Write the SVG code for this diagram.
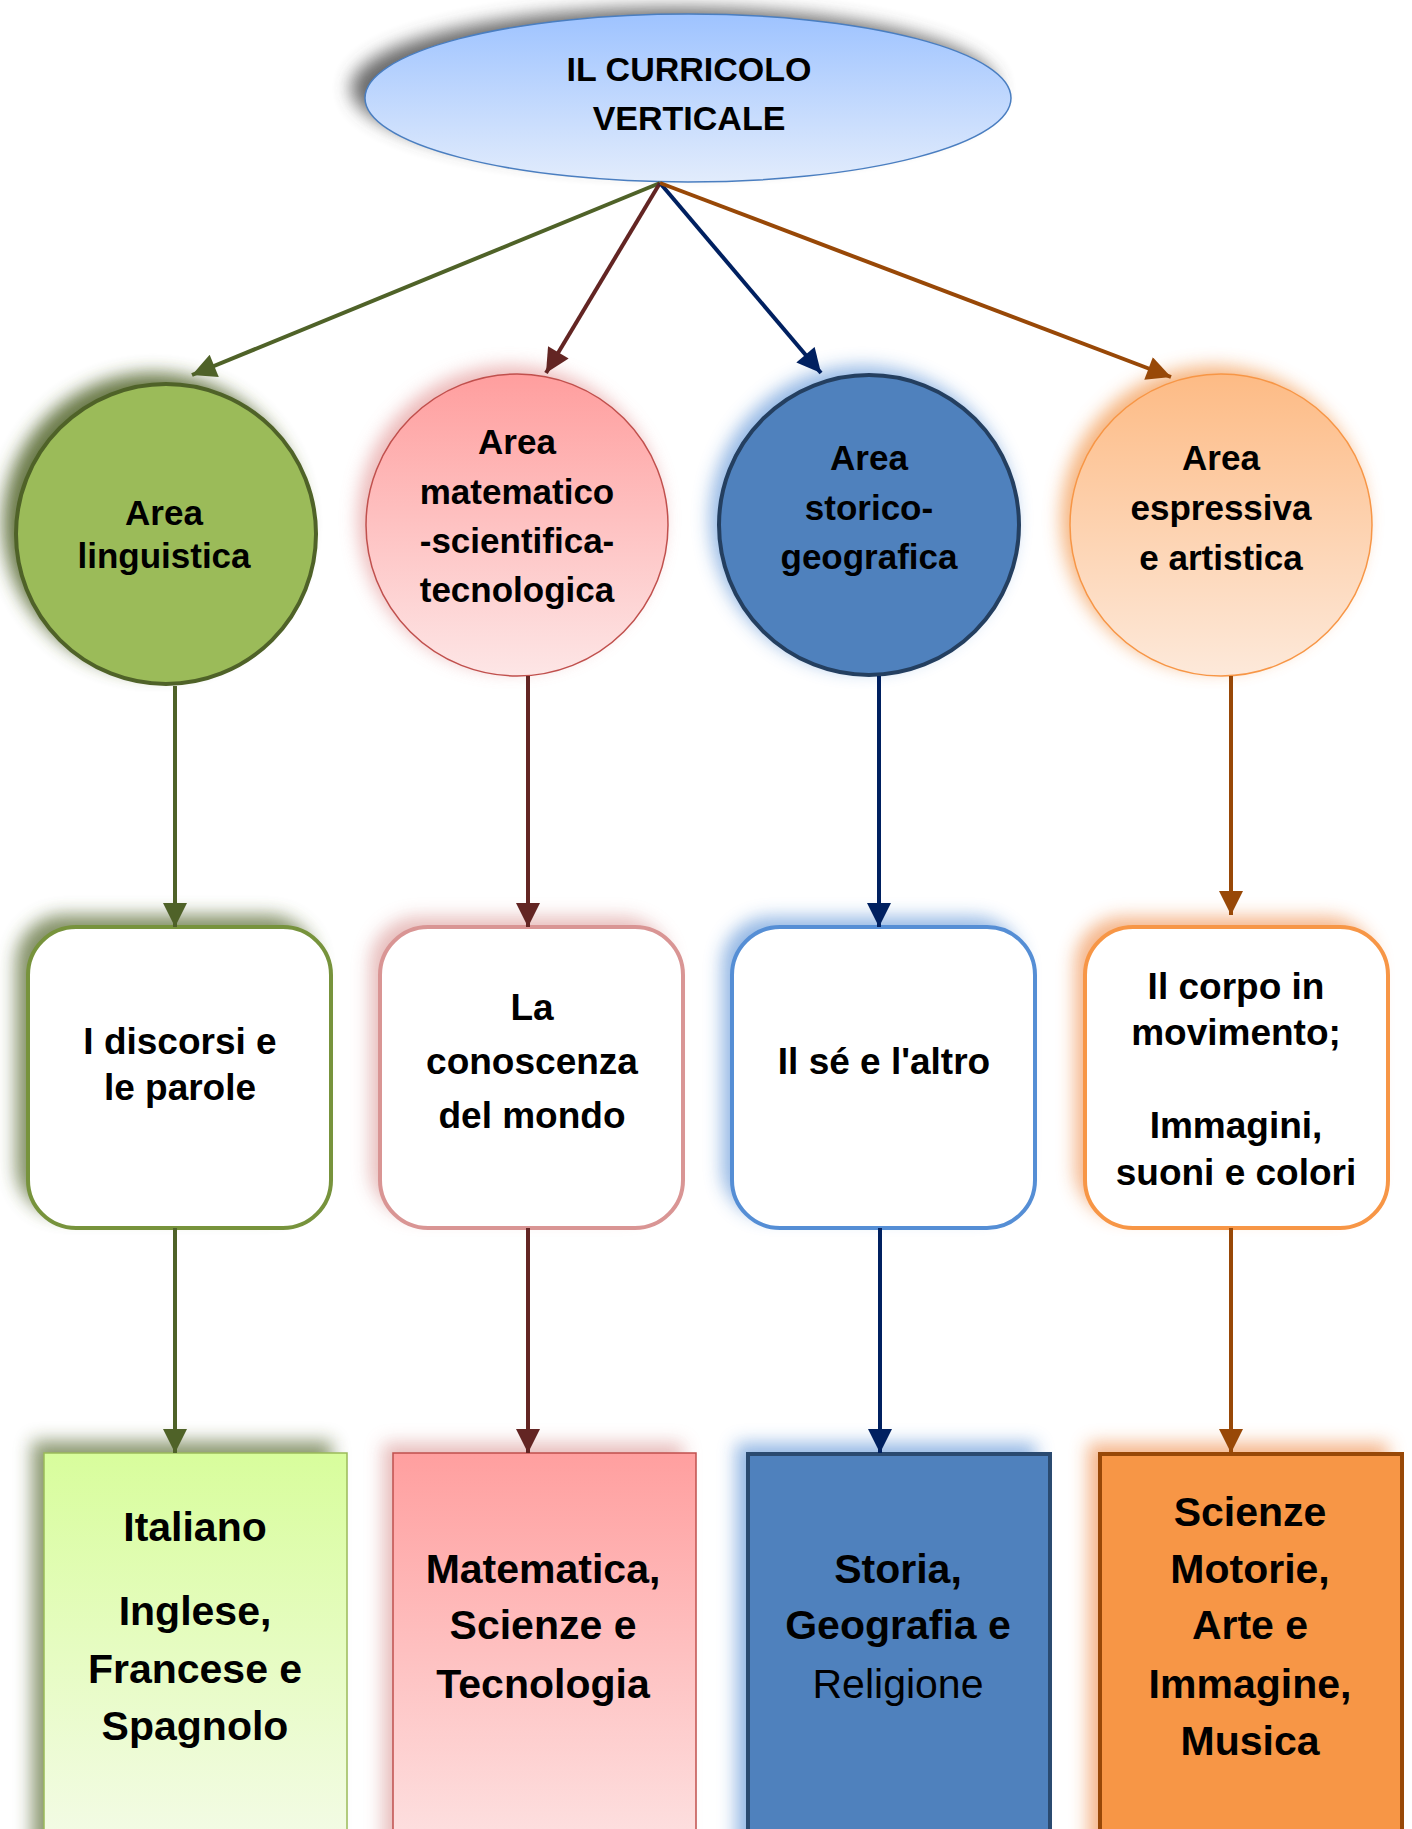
<svg xmlns="http://www.w3.org/2000/svg" width="1412" height="1829" viewBox="0 0 1412 1829">
<defs>
  <style>
    text { font-family: "Liberation Sans", Arial, sans-serif; font-weight: bold; fill: #000; text-anchor: middle; }
    .t34 { font-size: 34px; }
    .t35 { font-size: 35px; }
    .t37 { font-size: 37px; }
    .t41 { font-size: 41px; }
    .ln { fill: none; stroke-width: 4; }
  </style>
  <filter id="blur" x="-30%" y="-30%" width="160%" height="160%"><feGaussianBlur stdDeviation="9"/></filter>
  <linearGradient id="gEll" x1="0" y1="0" x2="0" y2="1"><stop offset="0" stop-color="#9ec3ff"/><stop offset="1" stop-color="#e2ecfc"/></linearGradient>
  <linearGradient id="gPink" x1="0" y1="0" x2="0" y2="1"><stop offset="0" stop-color="#ff9e9e"/><stop offset="1" stop-color="#fde6e6"/></linearGradient>
  <linearGradient id="gOrg" x1="0" y1="0" x2="0" y2="1"><stop offset="0" stop-color="#fdbb85"/><stop offset="1" stop-color="#fde9da"/></linearGradient>
  <linearGradient id="gGreenB" x1="0" y1="0" x2="0" y2="1"><stop offset="0" stop-color="#d8fd9c"/><stop offset="1" stop-color="#f4fbe8"/></linearGradient>
  <linearGradient id="gPinkB" x1="0" y1="0" x2="0" y2="1"><stop offset="0" stop-color="#ff9f9f"/><stop offset="1" stop-color="#fde2e2"/></linearGradient>
  <marker id="aG" viewBox="0 0 10 10" refX="10" refY="5" markerWidth="26" markerHeight="24" markerUnits="userSpaceOnUse" orient="auto"><path d="M0,0 L10,5 L0,10 z" fill="#4f6228"/></marker>
  <marker id="aR" viewBox="0 0 10 10" refX="10" refY="5" markerWidth="26" markerHeight="24" markerUnits="userSpaceOnUse" orient="auto"><path d="M0,0 L10,5 L0,10 z" fill="#632523"/></marker>
  <marker id="aB" viewBox="0 0 10 10" refX="10" refY="5" markerWidth="26" markerHeight="24" markerUnits="userSpaceOnUse" orient="auto"><path d="M0,0 L10,5 L0,10 z" fill="#002060"/></marker>
  <marker id="aO" viewBox="0 0 10 10" refX="10" refY="5" markerWidth="26" markerHeight="24" markerUnits="userSpaceOnUse" orient="auto"><path d="M0,0 L10,5 L0,10 z" fill="#984807"/></marker>
</defs>
<rect width="1412" height="1829" fill="#ffffff"/>

<!-- top node -->
<g id="root">
  <ellipse cx="674" cy="88" rx="323" ry="80" fill="#444" opacity="0.8" filter="url(#blur)"/>
  <ellipse cx="688" cy="98" rx="323" ry="84" fill="url(#gEll)" stroke="#4a7ec0" stroke-width="1.5"/>
  <text class="t34" x="689" y="81">IL CURRICOLO</text>
  <text class="t34" x="689" y="130">VERTICALE</text>
</g>

<!-- circles -->
<g id="area-linguistica">
  <circle cx="153" cy="523" r="150" fill="#4f6228" opacity="0.85" filter="url(#blur)"/>
  <circle cx="166" cy="534" r="150" fill="#9bbb59" stroke="#4f6228" stroke-width="4"/>
  <text class="t35" x="164" y="525">Area</text>
  <text class="t35" x="164" y="568">linguistica</text>
</g>
<g id="area-matematico">
  <circle cx="510" cy="518" r="152" fill="#e6a0a0" opacity="0.75" filter="url(#blur)"/>
  <circle cx="517" cy="525" r="151" fill="url(#gPink)" stroke="#c0504d" stroke-width="1.5"/>
  <text class="t35" x="517" y="454">Area</text>
  <text class="t35" x="517" y="504">matematico</text>
  <text class="t35" x="517" y="553">-scientifica-</text>
  <text class="t35" x="517" y="602">tecnologica</text>
</g>
<g id="area-storico">
  <circle cx="862" cy="518" r="152" fill="#8eb4e3" opacity="0.95" filter="url(#blur)"/>
  <circle cx="869" cy="525" r="150" fill="#4f81bd" stroke="#243f60" stroke-width="4"/>
  <text class="t35" x="869" y="470">Area</text>
  <text class="t35" x="869" y="520">storico-</text>
  <text class="t35" x="869" y="569">geografica</text>
</g>
<g id="area-espressiva">
  <circle cx="1213" cy="518" r="152" fill="#f4a86a" opacity="0.85" filter="url(#blur)"/>
  <circle cx="1221" cy="525" r="151" fill="url(#gOrg)" stroke="#f79646" stroke-width="1.5"/>
  <text class="t35" x="1221" y="470">Area</text>
  <text class="t35" x="1221" y="520">espressiva</text>
  <text class="t35" x="1221" y="570">e artistica</text>
</g>

<!-- rounded boxes -->
<g id="discorsi">
  <rect x="16" y="915" width="300" height="300" rx="48" fill="#4f6228" opacity="0.7" filter="url(#blur)"/>
  <rect x="28" y="927" width="303" height="301" rx="48" fill="#ffffff" stroke="#77933c" stroke-width="4"/>
  <text class="t37" x="180" y="1054">I discorsi e</text>
  <text class="t37" x="180" y="1100">le parole</text>
</g>
<g id="conoscenza">
  <rect x="370" y="917" width="300" height="300" rx="48" fill="#e6b9b8" opacity="0.95" filter="url(#blur)"/>
  <rect x="380" y="927" width="303" height="301" rx="48" fill="#ffffff" stroke="#d99594" stroke-width="4"/>
  <text class="t37" x="532" y="1020">La</text>
  <text class="t37" x="532" y="1074">conoscenza</text>
  <text class="t37" x="532" y="1128">del mondo</text>
</g>
<g id="se-altro">
  <rect x="722" y="917" width="300" height="300" rx="48" fill="#8eb4e3" opacity="0.95" filter="url(#blur)"/>
  <rect x="732" y="927" width="303" height="301" rx="48" fill="#ffffff" stroke="#558ed5" stroke-width="4"/>
  <text class="t37" x="884" y="1074">Il sé e l'altro</text>
</g>
<g id="corpo">
  <rect x="1075" y="917" width="300" height="300" rx="48" fill="#f4b183" opacity="0.95" filter="url(#blur)"/>
  <rect x="1085" y="927" width="303" height="301" rx="48" fill="#ffffff" stroke="#f79646" stroke-width="4"/>
  <text class="t37" x="1236" y="999">Il corpo in</text>
  <text class="t37" x="1236" y="1045">movimento;</text>
  <text class="t37" x="1236" y="1138">Immagini,</text>
  <text class="t37" x="1236" y="1185">suoni e colori</text>
</g>

<!-- bottom boxes -->
<g id="italiano">
  <rect x="32" y="1441" width="300" height="420" fill="#4f6228" opacity="0.65" filter="url(#blur)"/>
  <rect x="44" y="1453" width="303" height="400" fill="url(#gGreenB)" stroke="#9bbb59" stroke-width="1.5"/>
  <text class="t41" x="195" y="1541">Italiano</text>
  <text class="t41" x="195" y="1625">Inglese,</text>
  <text class="t41" x="195" y="1683">Francese e</text>
  <text class="t41" x="195" y="1740">Spagnolo</text>
</g>
<g id="matematica">
  <rect x="383" y="1443" width="300" height="420" fill="#e6b9b8" opacity="0.95" filter="url(#blur)"/>
  <rect x="393" y="1453" width="303" height="400" fill="url(#gPinkB)" stroke="#c0504d" stroke-width="1.5"/>
  <text class="t41" x="543" y="1583">Matematica,</text>
  <text class="t41" x="543" y="1639">Scienze e</text>
  <text class="t41" x="543" y="1698">Tecnologia</text>
</g>
<g id="storia">
  <rect x="736" y="1443" width="300" height="420" fill="#8eb4e3" opacity="0.95" filter="url(#blur)"/>
  <rect x="748" y="1454" width="302" height="400" fill="#4f81bd" stroke="#2a4a70" stroke-width="4"/>
  <text class="t41" x="898" y="1583">Storia,</text>
  <text class="t41" x="898" y="1639">Geografia e</text>
  <text class="t41" x="898" y="1698" style="font-weight:normal">Religione</text>
</g>
<g id="scienze-motorie">
  <rect x="1088" y="1443" width="300" height="420" fill="#f4b183" opacity="0.95" filter="url(#blur)"/>
  <rect x="1100" y="1454" width="302" height="400" fill="#f79646" stroke="#984807" stroke-width="4"/>
  <text class="t41" x="1250" y="1526">Scienze</text>
  <text class="t41" x="1250" y="1583">Motorie,</text>
  <text class="t41" x="1250" y="1639">Arte e</text>
  <text class="t41" x="1250" y="1698">Immagine,</text>
  <text class="t41" x="1250" y="1755">Musica</text>
</g>

<!-- connectors -->
<g id="connectors">
  <line class="ln" x1="660" y1="183" x2="192" y2="375" stroke="#4f6228" marker-end="url(#aG)"/>
  <line class="ln" x1="660" y1="183" x2="546" y2="373" stroke="#632523" marker-end="url(#aR)"/>
  <line class="ln" x1="660" y1="183" x2="821" y2="373" stroke="#002060" marker-end="url(#aB)"/>
  <line class="ln" x1="660" y1="183" x2="1171" y2="377" stroke="#984807" marker-end="url(#aO)"/>
  <line class="ln" x1="175" y1="686" x2="175" y2="927" stroke="#4f6228" marker-end="url(#aG)"/>
  <line class="ln" x1="528" y1="676" x2="528" y2="927" stroke="#632523" marker-end="url(#aR)"/>
  <line class="ln" x1="879" y1="676" x2="879" y2="927" stroke="#002060" marker-end="url(#aB)"/>
  <line class="ln" x1="1231" y1="676" x2="1231" y2="915" stroke="#984807" marker-end="url(#aO)"/>
  <line class="ln" x1="175" y1="1228" x2="175" y2="1453" stroke="#4f6228" marker-end="url(#aG)"/>
  <line class="ln" x1="528" y1="1228" x2="528" y2="1453" stroke="#632523" marker-end="url(#aR)"/>
  <line class="ln" x1="880" y1="1228" x2="880" y2="1453" stroke="#002060" marker-end="url(#aB)"/>
  <line class="ln" x1="1231" y1="1228" x2="1231" y2="1453" stroke="#984807" marker-end="url(#aO)"/>
</g>
</svg>
